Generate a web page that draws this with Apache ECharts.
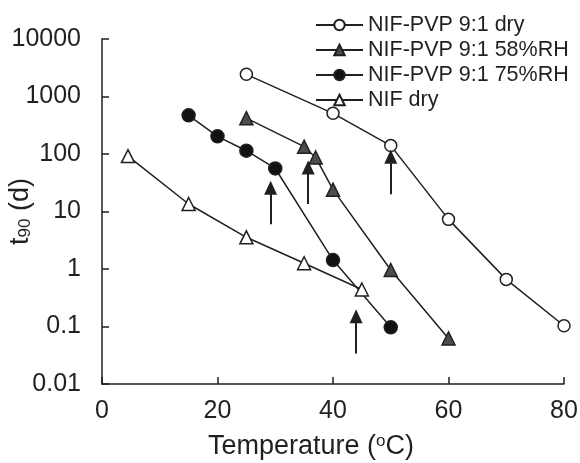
<!DOCTYPE html>
<html>
<head>
<meta charset="utf-8">
<script src="https://cdn.jsdelivr.net/npm/echarts@6/dist/echarts.min.js"></script>
<style>html,body{margin:0;padding:0;background:#fff}#c{width:580px;height:463px}</style>
</head>
<body>
<div id="c"></div>
<script>
// Data
var tempDry = [25, 40, 50, 60, 70, 80];
var t90Dry = [2430, 510, 140, 7.3, 0.66, 0.103];
var temp58 = [25, 35, 37, 40, 50, 60];
var t9058 = [420, 134, 87, 24, 0.96, 0.062];
var temp75 = [15, 20, 25, 30, 40, 50];
var t9075 = [470, 203, 114, 56, 1.43, 0.097];
var tempNif = [4.5, 15, 25, 35, 45];
var t90Nif = [92, 13.5, 3.56, 1.26, 0.44];
var seriesNames = ['NIF-PVP 9:1 dry', 'NIF-PVP 9:1 58%RH', 'NIF-PVP 9:1 75%RH', 'NIF dry'];
// Arrows (x position, start value, end value)
var arrowX = [29.2, 35.7, 50, 44];
var arrowFrom = [6.0, 13.5, 20, 0.034];
var arrowTo = [26, 58, 90, 0.15];
var xTicks = [0, 20, 40, 60, 80];

function pairs(xs, ys) { return xs.map(function (x, i) { return [x, ys[i]]; }); }

var ink = '#231f20';
var font = 'Liberation Sans, Arial, sans-serif';

var arrowData = arrowX.map(function (x, i) {
  return [{ coord: [x, arrowFrom[i]] }, { coord: [x, arrowTo[i]] }];
});

function lineSeries(name, data, symbol, size, fill) {
  return {
    name: name, type: 'line', data: data, symbol: symbol, symbolSize: size,
    showAllSymbol: true,
    lineStyle: { color: ink, width: 1.5 },
    itemStyle: { color: fill, borderColor: ink, borderWidth: 1.5 },
    emphasis: { disabled: true },
    z: 3
  };
}

var series = [
  lineSeries(seriesNames[0], pairs(tempDry, t90Dry), 'circle', 12, '#ffffff'),
  lineSeries(seriesNames[1], pairs(temp58, t9058), 'triangle', 13, '#4d4d4d'),
  lineSeries(seriesNames[2], pairs(temp75, t9075), 'circle', 13, '#111111'),
  lineSeries(seriesNames[3], pairs(tempNif, t90Nif), 'triangle', 13, '#ffffff')
];
series.push({
  type: 'line', data: [], silent: true,
  markLine: {
    silent: true, animation: false,
    symbol: ['none', 'triangle'], symbolSize: [13, 14],
    label: { show: false },
    lineStyle: { color: ink, width: 2, type: 'solid' },
    data: arrowData
  }
});

var chart = echarts.init(document.getElementById('c'));
chart.setOption({
  animation: false,
  backgroundColor: '#ffffff',
  textStyle: { fontFamily: font, color: ink },
  grid: { left: 102, right: 16, top: 39, bottom: 79, containLabel: false, outerBoundsMode: 'none' },
  legend: {
    data: seriesNames, orient: 'vertical', left: 315, top: 14,
    itemWidth: 47, itemHeight: 13, itemGap: 3, padding: 0,
    textStyle: { fontSize: 21.5, fontFamily: font, color: ink, lineHeight: 21 }
  },
  xAxis: {
    type: 'value', min: 0, max: 80, interval: 20,
    name: 'Temperature ({sup|o}C)', nameLocation: 'middle', nameGap: 49, nameMoveOverlap: false,
    nameTextStyle: { fontSize: 27, color: ink, fontFamily: font, padding: [0, 44, 0, 0],
      rich: { sup: { fontSize: 17, verticalAlign: 'top', padding: [0, 0, 10, 0], color: ink, fontFamily: font } } },
    axisLine: { lineStyle: { color: ink, width: 1.5 } },
    axisTick: { inside: true, length: 7, lineStyle: { color: ink, width: 1.5 } },
    axisLabel: { fontSize: 25, color: ink, margin: 15, fontFamily: font },
    splitLine: { show: false }
  },
  yAxis: {
    type: 'log', logBase: 10, min: 0.01, max: 10000,
    name: 't{sub|90} (d)', nameLocation: 'middle', nameGap: 68, nameMoveOverlap: false,
    nameTextStyle: { fontSize: 27, color: ink, fontFamily: font,
      rich: { sub: { fontSize: 17, verticalAlign: 'bottom', padding: [10, 0, 0, 0], color: ink, fontFamily: font } } },
    axisLine: { show: true, lineStyle: { color: ink, width: 1.5 } },
    axisTick: { inside: true, length: 7, lineStyle: { color: ink, width: 1.5 } },
    axisLabel: { fontSize: 25, color: ink, margin: 21, fontFamily: font,
      formatter: function (v) { return String(+(+v).toPrecision(3)); } },
    splitLine: { show: false },
    minorTick: { show: false }
  },
  series: series
});
</script>
</body>
</html>
